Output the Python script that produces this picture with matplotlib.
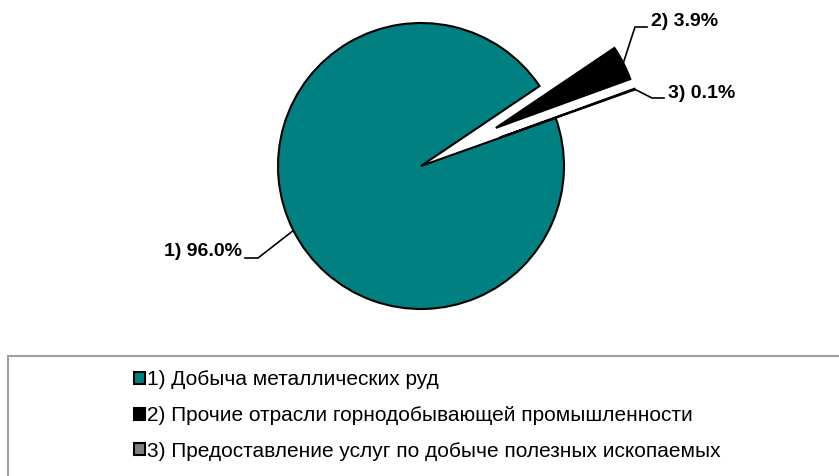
import math
import matplotlib
matplotlib.use("Agg")
import matplotlib.pyplot as plt
from matplotlib.patches import Rectangle, Patch

plt.rcParams['font.family'] = ['Liberation Sans', 'DejaVu Sans']

# данные
categories = ['1) Добыча металлических руд',
              '2) Прочие отрасли горнодобывающей промышленности',
              '3) Предоставление услуг по добыче полезных ископаемых']
shares = [96.0, 3.9, 0.1]
value_labels = ['1) 96.0%', '2) 3.9%', '3) 0.1%']
colors = ['#008080', '#000000', '#808080']

W, H = 839, 476
fig = plt.figure(figsize=(W / 100, H / 100), dpi=100)
ax = fig.add_axes([0, 0, 1, 1])

# пиксели -> данные (ось y вверх)
cx, cy, r = 421, H - 166, 143
explode = [0, 84, 84]
start = 19.6

wedges, _ = ax.pie(shares, colors=colors, explode=explode, startangle=start,
                   counterclock=False, radius=r, center=(cx, cy),
                   wedgeprops=dict(edgecolor='black', linewidth=1.5))
ax.set_xlim(0, W)
ax.set_ylim(0, H)
ax.set_aspect('auto')
ax.axis('off')

# подписи с выносками
elbows = [(258, 258), (635, 27), (652, 98)]
ends = [(245, 258), (647, 27), (664, 98)]
for w, lab, (ex, ey), (tx, ty) in zip(wedges, value_labels, elbows, ends):
    mid = math.radians((w.theta1 + w.theta2) / 2)
    px = w.center[0] + w.r * math.cos(mid)
    py = w.center[1] + w.r * math.sin(mid)
    ax.plot([px, ex, tx], [py, H - ey, H - ty], color='black', lw=1.2)
    if tx < ex:
        ax.text(tx - 3, H - ty + 6, lab, ha='right', va='center',
                fontsize=14, fontweight='bold')
    else:
        ax.text(tx + 4, H - ty + 5, lab, ha='left', va='center',
                fontsize=14, fontweight='bold')

# рамка легенды
ax.add_patch(Rectangle((8, -20), 900, H - 356 + 20, fill=False,
                       edgecolor='#a0a0a0', linewidth=1.5, clip_on=False))

handles = [Patch(facecolor=c, edgecolor='black', linewidth=1.5) for c in colors]
leg = ax.legend(handles, categories, loc='upper left',
                bbox_to_anchor=(126 / W, 1 - 362 / H), frameon=False,
                fontsize=15, handlelength=0.5, handleheight=0.5,
                handletextpad=0.1, labelspacing=0.8, borderaxespad=0)

fig.savefig('out.png', dpi=100)
